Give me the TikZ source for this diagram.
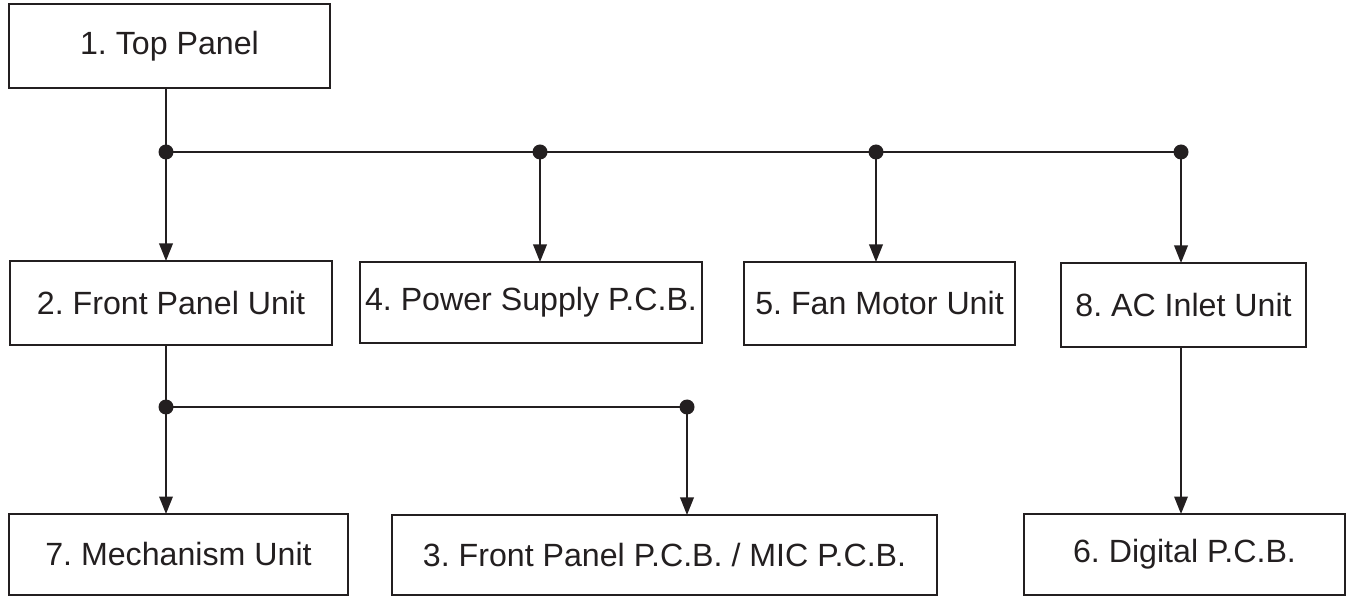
\documentclass[tikz,border=0pt]{standalone}
\usepackage{fontspec}
\setmainfont{Liberation Sans}
\usepackage{xcolor}
\usepackage{tikz}
\usetikzlibrary{arrows.meta, positioning}
\definecolor{inkblack}{RGB}{35,31,32}
\frenchspacing

\begin{document}
\begin{tikzpicture}[
  unitbox/.style={draw=inkblack, line width=1.4pt, inner sep=0pt, outer sep=0pt,
    text=inkblack, font=\fontsize{18.3}{22}\selectfont},
  feed/.style={draw=inkblack, line width=1.1pt},
  feedarrow/.style={feed, -{Triangle[length=0.35cm, width=0.27cm]}}
]
\useasboundingbox (0,0) rectangle (27.08,11.92);

% Units
\node[unitbox, minimum width=6.42cm, minimum height=1.68cm] (top) at (3.39,11.00) {1. Top Panel};
\node[unitbox, minimum width=6.44cm, minimum height=1.68cm] (front) at (3.42,5.86) {2. Front Panel Unit};
\node[unitbox, minimum width=6.84cm, minimum height=1.62cm] (power) at (10.62,5.87) {4. Power Supply P.C.B.};
\node[unitbox, minimum width=5.42cm, minimum height=1.66cm] (fan) at (17.59,5.85) {5. Fan Motor Unit};
\node[unitbox, minimum width=4.90cm, minimum height=1.68cm] (inlet) at (23.67,5.82) {8. AC Inlet Unit};
\node[unitbox, minimum width=6.78cm, minimum height=1.62cm] (mech) at (3.57,0.83) {7. Mechanism Unit};
\node[unitbox, minimum width=10.90cm, minimum height=1.60cm] (fpcb) at (13.29,0.82) {3. Front Panel P.C.B. / MIC P.C.B.};
\node[unitbox, minimum width=6.42cm, minimum height=1.62cm] (digital) at (23.69,0.83) {6. Digital P.C.B.};

% Junctions
\coordinate (j1) at (3.32,8.88);
\coordinate (j2) at (10.80,8.88);
\coordinate (j3) at (17.52,8.88);
\coordinate (j4) at (23.62,8.88);
\coordinate (j5) at (3.32,3.78);
\coordinate (j6) at (13.74,3.78);

% Upper branch
\draw[feed] (top.south -| j1) -- (j1);
\draw[feed] (j1) -- (j4);
\draw[feedarrow] (j1) -- (j1 |- front.north);
\draw[feedarrow] (j2) -- (j2 |- power.north);
\draw[feedarrow] (j3) -- (j3 |- fan.north);
\draw[feedarrow] (j4) -- (j4 |- inlet.north);

% Lower branch
\draw[feed] (front.south -| j5) -- (j5);
\draw[feed] (j5) -- (j6);
\draw[feedarrow] (j5) -- (j5 |- mech.north);
\draw[feedarrow] (j6) -- (j6 |- fpcb.north);
\draw[feedarrow] (inlet.south -| j4) -- (j4 |- digital.north);

% Dots
\foreach \j in {j1,j2,j3,j4,j5,j6}
  \fill[inkblack] (\j) circle (0.15);
\end{tikzpicture}
\end{document}
